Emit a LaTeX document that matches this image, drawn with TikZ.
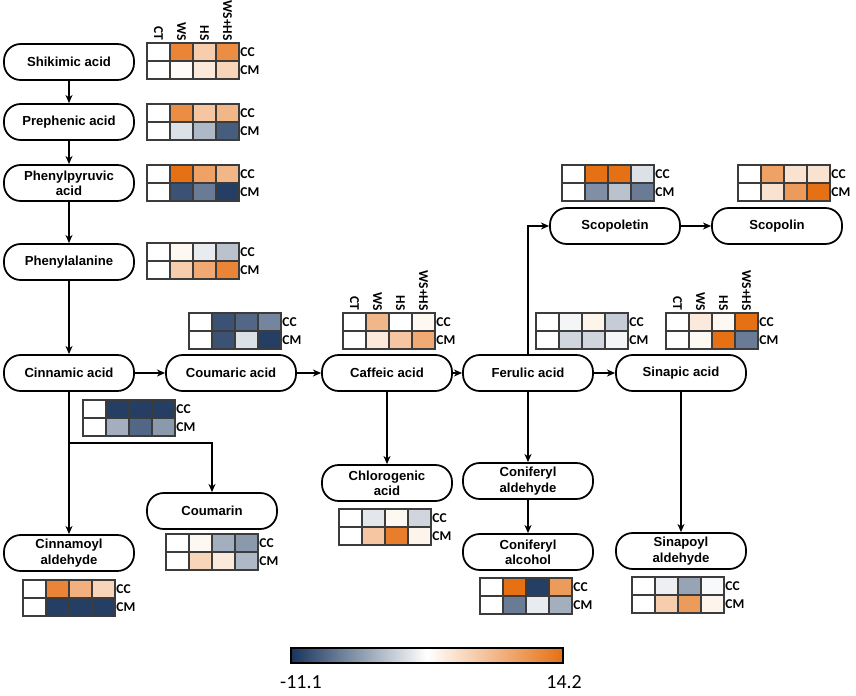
\documentclass[tikz,border=0pt]{standalone}
\usepackage{fontspec}
\setmainfont{Liberation Sans}
\newfontfamily\calfont{Carlito}
\usetikzlibrary{arrows.meta}
\definecolor{hmo}{RGB}{230,112,20}
\definecolor{hmb}{RGB}{24,52,92}
\definecolor{hmgrid}{RGB}{60,60,60}

\tikzset{
  met/.style={draw, line width=1.5pt, rounded corners=0.5cm, minimum width=3.9cm,
    minimum height=1.08cm, align=center, inner sep=1pt,
    font=\bfseries\fontsize{11.2}{13}\selectfont},
  flow/.style={-{Stealth[length=7pt,width=6pt]}, line width=1.4pt},
  hmcell/.style={draw=hmgrid, line width=1pt},
  hmlab/.style={font=\calfont\bfseries\fontsize{11.5}{11.5}\selectfont, inner sep=1pt},
  hmhead/.style={hmlab, rotate=-90, anchor=east}
}

% heat map: #1 top-left corner, #2 cells (CC row, then CM row)
\newcommand{\heatmap}[2]{%
  \begin{scope}[shift={#1}]
    \foreach \hc [count=\i from 0] in {#2} {
      \pgfmathtruncatemacro{\hx}{mod(\i,4)}
      \pgfmathtruncatemacro{\hy}{div(\i,4)}
      \filldraw[hmcell, fill=\hc] (\hx*23,\hy*18) rectangle ++(23,18);
    }
    \node[hmlab, anchor=west] at (92,9) {CC};
    \node[hmlab, anchor=west] at (92,27) {CM};
  \end{scope}}
% column heads of a heat map
\newcommand{\heathead}[1]{%
  \begin{scope}[shift={#1}]
    \foreach \lab [count=\i from 0] in {CT,WS,HS,WS+HS}
      \node[hmhead] at (\i*23+11.5,-1) {\lab};
  \end{scope}}

\begin{document}
\begin{tikzpicture}[x=0.03cm, y=-0.03cm]
\useasboundingbox (0,0) rectangle (856,696);

% metabolites
\node[met] (shik) at (69,62) {Shikimic acid};
\node[met] (preph) at (69,122) {Prephenic acid};
\node[met] (phpyr) at (69,183) {Phenylpyruvic\\acid};
\node[met] (phala) at (69,262) {Phenylalanine};
\node[met] (cinn) at (69,373) {Cinnamic acid};
\node[met] (coum) at (231,373) {Coumaric acid};
\node[met] (caff) at (387,373) {Caffeic acid};
\node[met] (ferul) at (528,373) {Ferulic acid};
\node[met] (sinap) at (681,373) {Sinapic acid};
\node[met] (scopt) at (615,226) {Scopoletin};
\node[met] (scopn) at (777,226) {Scopolin};
\node[met] (chlor) at (387,483) {Chlorogenic\\acid};
\node[met] (conald) at (528,481) {Coniferyl\\aldehyde};
\node[met] (conalc) at (528,552) {Coniferyl\\alcohol};
\node[met] (sinald) at (681,551) {Sinapoyl\\aldehyde};
\node[met] (coumn) at (212,511) {Coumarin};
\node[met] (cinald) at (69,553) {Cinnamoyl\\aldehyde};

% reactions
\draw[flow] (shik) -- (preph);
\draw[flow] (preph) -- (phpyr);
\draw[flow] (phpyr) -- (phala);
\draw[flow] (phala) -- (cinn);
\draw[flow] (cinn) -- (coum);
\draw[flow] (coum) -- (caff);
\draw[flow] (caff) -- (ferul);
\draw[flow] (ferul) -- (sinap);
\draw[flow] (ferul) |- (scopt);
\draw[flow] (scopt) -- (scopn);
\draw[flow] (caff) -- (chlor);
\draw[flow] (ferul) -- (conald);
\draw[flow] (conald) -- (conalc);
\draw[flow] (sinap) -- (sinald);
\draw[flow] (cinn) -- (cinald);
\coordinate (fork) at (69,443);
\draw[flow] (fork) -| (coumn);

% heat maps
\heatmap{(147,43)}{white,hmo!85,hmo!35,hmo!80,white,hmo!3,hmo!15,hmo!30}
\heathead{(147,43)}
\heatmap{(147,104)}{white,hmo!80,hmo!40,hmo!50,white,hmb!15,hmb!35,hmb!80}
\heatmap{(147,165)}{white,hmo!100,hmo!65,hmo!50,white,hmb!85,hmb!65,hmb!95}
\heatmap{(147,243)}{white,hmo!5,hmb!10,hmb!30,white,hmo!35,hmo!60,hmo!85}
\heatmap{(189,313)}{white,hmb!85,hmb!75,hmb!60,white,hmb!85,hmb!15,hmb!95}
\heatmap{(83,400)}{white,hmb!95,hmb!95,hmb!95,white,hmb!40,hmb!75,hmb!50}
\heatmap{(343,313)}{white,hmo!50,white,hmo!5,white,hmo!15,hmo!40,hmo!60}
\heathead{(343,313)}
\heatmap{(536,313)}{white,hmb!5,hmo!8,hmb!25,white,hmb!20,hmb!20,hmb!5}
\heatmap{(666,313)}{white,hmo!15,hmo!5,hmo!100,white,hmo!5,hmo!100,hmb!65}
\heathead{(666,313)}
\heatmap{(562,165)}{white,hmo!100,hmo!100,hmb!15,white,hmb!55,hmb!30,hmb!65}
\heatmap{(738,165)}{white,hmo!65,hmo!20,hmo!20,white,hmo!20,hmo!70,hmo!100}
\heatmap{(339,509)}{white,hmb!12,hmo!5,hmb!20,white,hmo!40,hmo!90,hmo!8}
\heatmap{(166,534)}{white,hmo!5,hmb!40,hmb!50,white,hmo!30,hmo!15,hmb!35}
\heatmap{(23,580)}{white,hmo!85,hmo!55,hmo!30,white,hmb!95,hmb!95,hmb!95}
\heatmap{(480,578)}{white,hmo!100,hmb!95,hmo!70,white,hmb!65,hmb!10,hmb!40}
\heatmap{(632,577)}{white,hmb!8,hmb!45,hmb!3,white,hmo!35,hmo!70,hmo!8}

% colour scale
\shade[left color=hmb, right color=hmo, middle color=white] (291,648) rectangle (563,663);
\draw[line width=1.2pt] (291,648) rectangle (563,663);
\node[font=\calfont\fontsize{17}{17}\selectfont, anchor=west, inner sep=0pt] (smin) at (280,682) {-11.1};
\node[font=\calfont\fontsize{17}{17}\selectfont, anchor=east, inner sep=0pt] (smax) at (582,682) {14.2};
\end{tikzpicture}
\end{document}
